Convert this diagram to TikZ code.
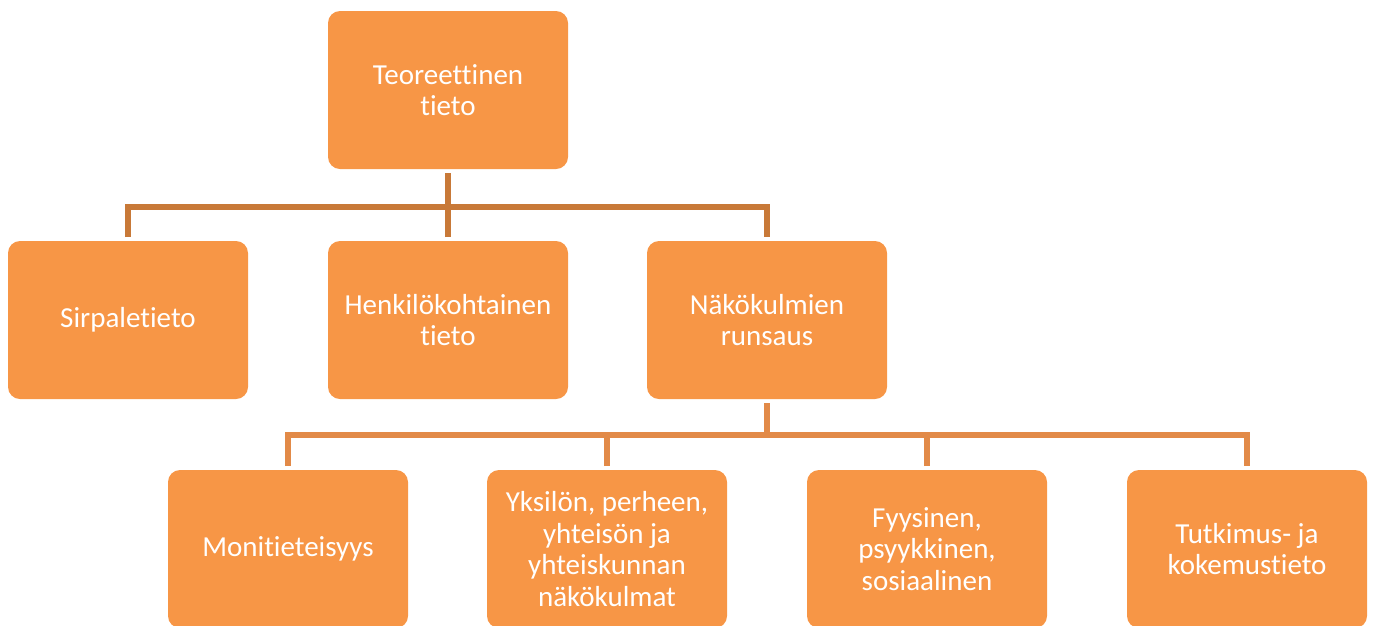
\documentclass[tikz,border=0pt]{standalone}
\usepackage{fontspec}
\setmainfont{Carlito}[Ligatures={NoCommon,NoContextual}]
\definecolor{boxfill}{RGB}{247,150,70}
\definecolor{linetop}{RGB}{200,121,56}
\definecolor{linelow}{RGB}{226,138,72}
\begin{document}
\begin{tikzpicture}[x=1pt,y=-1pt,
  box/.style={draw=none, fill=boxfill, rounded corners=12pt, minimum width=240pt, minimum height=158pt,
    text=white, align=center, font=\fontsize{29}{31.5}\selectfont, inner sep=0pt, outer sep=4pt},
  conn/.style={line width=6pt, line join=miter, line cap=butt}]
\useasboundingbox (0,0) rectangle (1373,625);
\clip (0,0) rectangle (1373,625);
\node[box] (t) at (448,90) {Teoreettinen\\tieto};
\node[box] (s) at (128,320) {Sirpaletieto};
\node[box] (h) at (448,320) {Henkilökohtainen\\tieto};
\node[box] (n) at (767,320) {Näkökulmien\\runsaus};
\node[box] (m) at (288,549) {Monitieteisyys};
\node[box] (y) at (607,549) {Yksilön, perheen,\\yhteisön ja\\yhteiskunnan\\näkökulmat};
\node[box] (f) at (927,549) {Fyysinen,\\psyykkinen,\\sosiaalinen};
\node[box] (k) at (1247,549) {Tutkimus- ja\\kokemustieto};
\coordinate (b1) at (448,207);
\coordinate (b2) at (767,435);
\draw[conn, linetop] (t.south) -- (t.south |- b1);
\draw[conn, linetop] (s.north) -- (s.north |- b1) -- (n.north |- b1) -- (n.north);
\draw[conn, linetop] (h.north) -- (h.north |- b1);
\draw[conn, linelow] (n.south) -- (n.south |- b2);
\draw[conn, linelow] (m.north) -- (m.north |- b2) -- (k.north |- b2) -- (k.north);
\draw[conn, linelow] (y.north) -- (y.north |- b2);
\draw[conn, linelow] (f.north) -- (f.north |- b2);
\end{tikzpicture}
\end{document}
